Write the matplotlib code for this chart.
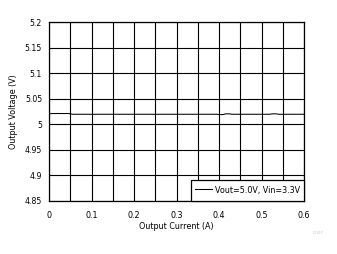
import matplotlib
matplotlib.use("Agg")
import matplotlib.pyplot as plt
from matplotlib.ticker import MultipleLocator

current = [0.0, 0.005, 0.01, 0.015, 0.02, 0.025, 0.03, 0.035, 0.04, 0.045, 0.05,
           0.055, 0.1, 0.15, 0.2, 0.25, 0.3, 0.35, 0.395, 0.40, 0.41, 0.415,
           0.425, 0.43, 0.45, 0.5, 0.52, 0.525, 0.535, 0.54, 0.55, 0.6]
voltage = [5.0210, 5.0208, 5.0211, 5.0209, 5.0212, 5.0210, 5.0211, 5.0209, 5.0211, 5.0210, 5.0208,
           5.0196, 5.0196, 5.0196, 5.0196, 5.0196, 5.0196, 5.0196, 5.0196, 5.0190, 5.0190, 5.0204,
           5.0204, 5.0196, 5.0196, 5.0196, 5.0196, 5.0204, 5.0204, 5.0196, 5.0196, 5.0196]
series_label = "Vout=5.0V, Vin=3.3V"
x_ticks = [0, 0.1, 0.2, 0.3, 0.4, 0.5, 0.6]
x_tick_labels = ["0", "0.1", "0.2", "0.3", "0.4", "0.5", "0.6"]
y_ticks = [4.85, 4.9, 4.95, 5.0, 5.05, 5.1, 5.15, 5.2]
y_tick_labels = ["4.85", "4.9", "4.95", "5", "5.05", "5.1", "5.15", "5.2"]

plt.rcParams['font.family'] = ['DejaVu Sans']

fig = plt.figure(figsize=(3.37, 2.54), dpi=100)
ax = fig.add_axes([49/337, 1-201/254, (304-49)/337, (201-22)/254])

ax.plot(current, voltage, color='black', lw=0.75, label=series_label)

ax.set_xlim(0, 0.6)
ax.set_ylim(4.85, 5.2)
ax.set_xticks(x_ticks)
ax.set_xticklabels(x_tick_labels)
ax.set_yticks(y_ticks)
ax.set_yticklabels(y_tick_labels)
ax.xaxis.set_minor_locator(MultipleLocator(0.05))
ax.grid(True, which='both', color='black', lw=0.8)
ax.tick_params(which='both', length=0)
ax.tick_params(axis='x', labelsize=5.8, pad=7)
ax.tick_params(axis='y', labelsize=5.6, pad=5)
for s in ax.spines.values():
    s.set_color('black')
    s.set_linewidth(0.9)

ax.set_xlabel("Output Current (A)", fontsize=5.8, labelpad=1.5)
ax.set_ylabel("Output Voltage (V)", fontsize=5.8, labelpad=5)

leg = ax.legend(loc='lower right', bbox_to_anchor=(1, 0), borderaxespad=0,
                fontsize=5.8, frameon=True, fancybox=False, borderpad=0.5,
                handlelength=2.1, handletextpad=0.4, handleheight=2.0)
leg.get_frame().set_edgecolor('black')
leg.get_frame().set_linewidth(0.9)
leg.get_frame().set_facecolor('white')
leg.get_frame().set_alpha(1)

fig.text(318/337, 1-232.5/254, "D007", fontsize=3, color='#c8c8c8', ha='center', va='center')

fig.savefig("out.png", dpi=100)
